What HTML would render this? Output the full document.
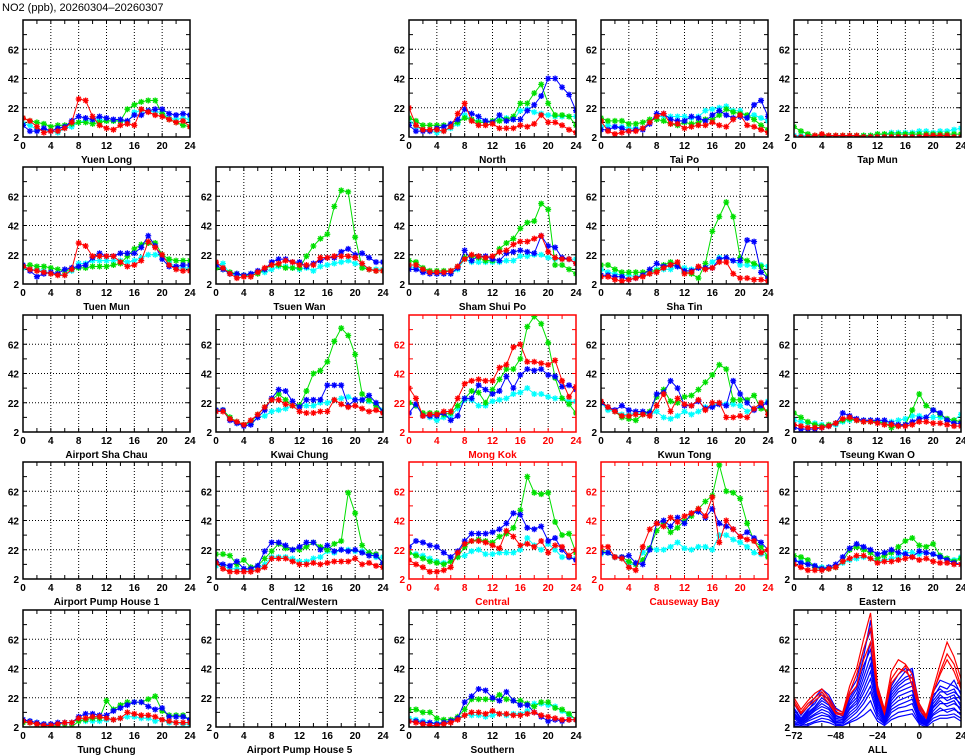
<!DOCTYPE html>
<html><head><meta charset="utf-8"><style>
body{margin:0;background:#fff;}
svg{display:block;font-family:"Liberation Sans",sans-serif;}
</style></head><body>
<svg id="chart" width="965" height="755" viewBox="0 0 965 755" xmlns="http://www.w3.org/2000/svg">
<text x="2" y="11" font-size="11" fill="#000">NO2 (ppb), 20260304–20260307</text>
</svg>
<script>
const hours=[0,1,2,3,4,5,6,7,8,9,10,11,12,13,14,15,16,17,18,19,20,21,22,23,24];
const yTicks=[2,22,42,62];
const xTicks=[0,4,8,12,16,20,24];
const allXTicks=[-72,-48,-24,0,24];
const allHours=[-72,-68,-64,-60,-56,-52,-48,-44,-40,-36,-32,-28,-24,-20,-16,-12,-8,-4,0,4,8,12,16,20,24];

const YL_green=[15,13,12,11,9,10,10,11,12,12,11,12,13,13,13,21,24,26,27,27,18,14,12,10,9];
const YL_red=[15,13,9,5,6,6,8,12,28,27,16,10,8,7,10,11,10,21,19,17,16,14,12,13,9];
const YL_blue=[10,6,6,8,6,8,9,13,16,15,14,16,15,14,14,13,17,17,20,21,21,18,17,18,17];
const YL_cyan=[11,10,7,7,6,5,8,9,12,13,13,14,13,13,13,12,19,20,20,19,19,15,14,15,14];

const NO_green=[15,13,10,10,10,10,10,12,15,14,12,12,13,13,14,16,25,25,32,38,25,17,17,16,10];
const NO_red=[22,10,7,7,7,6,9,18,25,13,10,10,11,8,8,8,10,9,11,17,12,12,10,7,5];
const NO_blue=[10,6,6,6,8,9,11,14,21,18,16,13,12,17,13,14,14,20,24,30,42,42,36,31,20];
const NO_cyan=[14,9,7,6,5,6,8,11,17,14,13,13,12,14,15,14,20,21,19,18,17,16,16,16,16];

const TP_green=[15,13,13,13,11,11,12,14,14,13,11,10,12,11,12,14,14,17,21,19,18,17,14,10,7];
const TP_red=[13,6,4,5,6,6,8,12,16,18,11,11,8,9,10,10,12,10,9,14,17,10,9,7,5];
const TP_blue=[7,7,9,8,6,7,7,11,18,18,14,13,13,16,15,13,17,20,17,15,16,15,24,27,16];
const TP_cyan=[9,10,9,9,8,8,8,12,16,16,16,16,16,15,16,20,21,22,23,20,20,16,17,15,13];

const TM_green=[9,6,4,3,3,3,3,3,3,3,3,3,4,4,4,4,4,4,4,4,4,4,4,4,4];
const TM_red=[2,2,2,3,4,3,3,3,3,3,2,2,2,2,2,2,2,2,2,3,3,3,3,2,2];
const TM_blue=[2,2,2,2,2,2,2,2,2,2,2,2,2,2,2,2,2,2,2,2,2,2,2,2,2];
const TM_cyan=[3,3,3,3,3,3,3,3,3,3,3,3,4,4,5,5,5,5,6,6,5,6,6,7,8];

const TMN_green=[14,15,14,14,13,12,11,12,13,13,14,14,14,15,16,21,26,29,30,30,22,19,18,18,18];
const TMN_red=[14,12,11,10,9,8,8,12,30,28,21,21,21,21,17,14,15,18,31,27,22,15,12,11,11];
const TMN_blue=[15,11,7,9,10,9,12,13,14,15,20,23,21,21,23,23,23,27,35,28,19,14,14,15,15];
const TMN_cyan=[13,12,12,11,9,9,8,11,16,16,18,18,18,18,18,17,18,20,22,22,21,17,13,13,13];

const TW_green=[13,12,10,9,8,8,9,12,15,15,13,13,13,21,28,33,36,55,66,65,34,13,12,11,11];
const TW_red=[17,13,9,6,7,7,10,13,15,16,18,17,15,15,15,20,20,21,21,21,20,16,12,11,11];
const TW_blue=[15,12,9,9,8,9,11,12,17,19,19,17,17,14,16,18,20,20,24,26,22,23,20,17,17];
const TW_cyan=[14,16,9,8,8,9,10,10,12,14,14,13,12,13,11,14,15,16,17,18,16,15,12,12,12];

const SSP_green=[18,17,13,11,11,11,11,14,20,21,20,18,18,26,30,33,40,44,45,57,53,15,15,12,9];
const SSP_red=[15,15,12,10,10,10,11,14,19,22,21,20,21,24,25,29,31,31,33,35,24,20,19,19,16];
const SSP_blue=[12,12,10,9,9,9,9,13,25,18,21,21,19,18,23,24,25,24,23,35,28,27,20,19,16];
const SSP_cyan=[14,13,11,10,9,9,9,12,19,17,17,17,17,17,18,18,21,21,22,22,20,19,19,19,19];

const ST_green=[15,15,12,10,10,10,10,11,11,15,17,15,10,9,6,16,38,48,58,48,20,18,16,14,7];
const ST_red=[7,7,5,4,5,6,7,9,10,13,15,17,9,10,14,12,13,17,17,9,6,6,5,5,4];
const ST_blue=[8,8,7,7,5,6,8,12,16,14,15,14,11,11,13,13,13,19,20,18,18,32,31,10,6];
const ST_cyan=[12,10,9,8,8,7,8,9,12,12,12,14,13,12,13,13,17,20,20,18,15,15,14,15,14];

const KC_green=[17,17,12,9,7,9,14,19,24,28,24,20,20,30,42,44,50,64,73,68,55,28,24,20,16];
const KC_red=[16,16,11,9,7,10,14,19,24,24,21,20,16,15,15,16,16,24,21,19,20,18,16,17,15];
const KC_blue=[17,17,10,8,6,7,12,17,25,31,30,23,19,24,24,24,34,34,34,20,24,24,27,22,16];
const KC_cyan=[17,17,12,8,7,8,12,13,16,17,18,20,20,20,20,22,22,24,25,26,24,24,23,21,17];

const MK_green=[22,20,15,15,15,14,15,20,25,30,29,22,31,38,45,45,52,74,81,76,63,39,25,21,15];
const MK_red=[32,25,13,14,14,16,16,25,35,37,38,37,37,46,48,60,62,50,50,49,48,51,37,26,33];
const MK_blue=[15,21,13,13,13,15,10,13,25,25,34,31,28,30,40,32,41,45,44,45,41,40,33,34,31];
const MK_cyan=[22,20,14,12,10,12,13,18,24,24,20,20,23,24,25,28,29,32,28,28,26,25,25,23,23];

const KT_green=[22,19,16,12,11,10,14,16,26,31,23,22,26,27,31,36,41,48,45,24,24,24,27,18,16];
const KT_red=[23,19,16,13,13,14,14,13,20,28,16,25,21,20,24,17,22,22,12,12,13,12,18,22,14];
const KT_blue=[22,19,17,20,17,16,16,15,28,29,37,32,20,20,23,18,19,21,20,37,28,22,17,20,22];
const KT_cyan=[22,17,16,14,14,15,15,14,16,12,11,13,16,14,16,19,20,22,21,21,20,16,18,21,23];

const TKO_green=[15,12,9,7,6,7,8,10,11,10,9,9,9,8,5,6,7,17,28,20,17,14,11,10,9];
const TKO_red=[7,6,5,5,5,6,8,11,12,10,9,9,8,7,7,6,6,7,9,9,8,8,7,6,6];
const TKO_blue=[5,4,4,4,5,6,8,15,13,11,10,10,10,10,8,7,7,9,11,12,17,15,10,8,8];
const TKO_cyan=[10,9,8,8,7,6,7,9,10,10,10,10,9,9,9,10,11,13,13,12,12,12,10,10,14];

const CW_green=[19,19,18,12,15,10,11,16,21,26,23,22,22,24,27,24,22,26,28,61,47,25,20,19,13];
const CW_red=[13,9,7,7,7,7,8,10,16,16,16,14,12,12,13,12,13,14,14,14,16,12,13,11,10];
const CW_blue=[14,12,11,14,9,9,11,21,27,27,25,22,24,27,27,22,25,21,22,21,22,20,18,18,13];
const CW_cyan=[11,11,9,9,9,8,9,12,17,17,17,16,14,14,16,17,21,20,22,22,21,21,20,17,17];

const CE_green=[20,18,16,14,13,12,14,17,24,28,29,28,27,31,33,37,49,72,61,60,61,41,32,33,20];
const CE_red=[15,12,10,7,7,8,10,20,26,28,28,27,25,23,35,31,25,26,24,28,20,25,24,18,22];
const CE_blue=[24,28,27,25,24,20,17,21,28,33,33,33,34,36,40,47,46,37,36,38,28,30,22,17,15];
const CE_cyan=[20,19,18,16,14,13,14,17,18,21,22,19,19,20,20,20,22,30,25,22,26,22,17,17,16];

const CB_green=[21,20,17,17,14,12,15,23,35,40,34,37,42,45,50,55,59,80,62,61,57,40,28,24,17];
const CB_red=[24,24,17,16,10,8,24,36,40,38,44,41,45,47,50,45,58,27,42,36,31,29,28,20,22];
const CB_blue=[20,20,17,17,18,13,12,22,40,42,38,44,40,47,48,44,50,40,38,36,31,34,30,27,22];
const CB_cyan=[19,20,17,16,12,12,20,23,22,22,24,27,23,22,24,24,22,32,32,29,27,24,20,19,18];

const EA_green=[18,17,15,10,9,9,10,14,22,24,22,20,16,18,20,24,28,30,25,24,26,18,16,14,16];
const EA_red=[12,10,8,8,8,9,10,14,16,18,18,16,13,14,14,15,16,17,15,16,14,13,13,12,12];
const EA_blue=[15,13,12,11,9,10,12,17,23,26,24,22,19,20,22,20,19,17,21,20,19,17,15,13,12];
const EA_cyan=[15,14,12,11,10,10,10,13,15,16,17,16,14,15,16,17,20,20,19,20,19,18,16,15,17];

const TC_green=[5,5,4,3,3,2,2,2,6,7,8,8,20,14,17,19,19,19,21,23,13,10,10,10,7];
const TC_red=[6,5,4,3,3,4,5,5,8,8,9,9,8,7,8,12,11,10,10,9,7,6,5,5,5];
const TC_blue=[7,6,5,4,4,5,5,5,9,11,11,10,10,13,15,17,19,19,16,14,15,9,9,9,7];
const TC_cyan=[7,6,5,4,3,3,5,5,7,6,6,6,7,7,8,9,9,8,8,6,7,5,5,4,4];

const SO_green=[14,14,12,12,8,7,7,9,14,21,21,21,21,24,21,20,20,18,16,19,19,15,14,11,7];
const SO_red=[6,5,4,3,3,4,5,7,10,12,12,11,13,11,11,10,10,11,12,10,9,8,7,7,7];
const SO_blue=[6,6,5,5,4,5,6,8,19,23,28,27,22,20,26,20,17,17,12,9,6,7,6,7,7];
const SO_cyan=[8,7,6,5,5,5,6,8,10,10,10,9,10,11,10,11,11,13,18,18,17,16,13,10,7];

const ALL_red1=[22,14,20,25,28,22,14,12,30,42,62,80,30,14,40,48,45,38,18,10,28,45,60,50,35];
const ALL_red2=[20,12,18,22,26,20,12,11,26,38,55,70,28,12,35,42,40,35,16,9,25,40,52,45,30];
const ALL_red3=[18,11,16,20,24,18,11,10,24,30,48,60,25,11,32,38,44,30,14,8,26,38,48,40,28];
const ALL_blue1=[15,8,14,18,26,20,12,10,22,30,50,75,26,12,28,34,40,42,15,6,22,30,28,34,24];
const ALL_blue2=[12,6,12,16,22,18,10,8,18,25,40,60,22,10,24,30,34,36,12,5,20,26,26,28,20];
const ALL_blue3=[10,5,10,14,18,15,8,7,15,20,32,45,18,8,20,26,28,30,10,4,16,22,22,24,16];
const ALL_blue4=[8,4,8,11,14,12,6,5,12,16,25,35,14,6,16,20,22,24,8,3,13,18,18,20,13];
const ALL_blue5=[5,3,6,8,10,9,4,4,8,12,18,26,10,4,12,15,16,18,6,3,10,13,14,15,10];
const ALL_blue6=[3,2,3,5,6,5,3,3,5,7,10,14,6,3,7,9,10,11,4,2,6,8,8,9,6];
const ALL_blue7=[18,10,16,22,28,24,15,12,26,34,55,68,30,14,30,38,42,40,18,8,26,34,32,30,26];
const ALL_blue8=[14,7,13,20,24,21,13,9,20,28,44,55,24,11,26,32,36,38,14,6,24,28,24,26,22];
const ALL_blue9=[11,6,11,15,20,17,9,8,17,22,36,50,20,9,22,28,31,33,11,5,18,24,20,22,18];
const ALL_blue10=[9,5,9,13,16,14,7,6,14,18,28,40,16,7,18,23,25,27,9,4,15,20,16,18,15];
const ALL_blue11=[6,4,7,10,12,10,5,5,10,14,21,30,12,5,14,17,19,21,7,3,11,15,12,14,11];
const ALL_blue12=[4,3,4,6,8,7,4,3,6,9,14,20,8,4,9,12,13,14,5,3,8,10,10,11,8];

const NS='http://www.w3.org/2000/svg';
const svg=document.getElementById('chart');
const colLeft=[23,216,409,601,794], rowTop=[20,167,315,462,610];
const PW=167, PH=117, YMIN=2, YMAX=82;
const C={green:'#00e000',red:'#ff0000',blue:'#0000ff',cyan:'#00ffff'};

function mk(tag,attrs,parent){const e=document.createElementNS(NS,tag);for(const k in attrs)e.setAttribute(k,attrs[k]);parent.appendChild(e);return e;}

const panels=[
 {r:0,c:0,name:'Yuen Long',s:[YL_cyan,YL_green,YL_blue,YL_red]},
 {r:0,c:2,name:'North',s:[NO_cyan,NO_green,NO_blue,NO_red]},
 {r:0,c:3,name:'Tai Po',s:[TP_cyan,TP_green,TP_blue,TP_red]},
 {r:0,c:4,name:'Tap Mun',s:[TM_cyan,TM_green,TM_blue,TM_red]},
 {r:1,c:0,name:'Tuen Mun',s:[TMN_cyan,TMN_green,TMN_blue,TMN_red]},
 {r:1,c:1,name:'Tsuen Wan',s:[TW_cyan,TW_green,TW_blue,TW_red]},
 {r:1,c:2,name:'Sham Shui Po',s:[SSP_cyan,SSP_green,SSP_blue,SSP_red]},
 {r:1,c:3,name:'Sha Tin',s:[ST_cyan,ST_green,ST_blue,ST_red]},
 {r:2,c:0,name:'Airport Sha Chau',s:null},
 {r:2,c:1,name:'Kwai Chung',s:[KC_cyan,KC_green,KC_blue,KC_red]},
 {r:2,c:2,name:'Mong Kok',road:true,s:[MK_cyan,MK_green,MK_blue,MK_red]},
 {r:2,c:3,name:'Kwun Tong',s:[KT_cyan,KT_green,KT_blue,KT_red]},
 {r:2,c:4,name:'Tseung Kwan O',s:[TKO_cyan,TKO_green,TKO_blue,TKO_red]},
 {r:3,c:0,name:'Airport Pump House 1',s:null},
 {r:3,c:1,name:'Central/Western',s:[CW_cyan,CW_green,CW_blue,CW_red]},
 {r:3,c:2,name:'Central',road:true,s:[CE_cyan,CE_green,CE_blue,CE_red]},
 {r:3,c:3,name:'Causeway Bay',road:true,s:[CB_cyan,CB_green,CB_blue,CB_red]},
 {r:3,c:4,name:'Eastern',s:[EA_cyan,EA_green,EA_blue,EA_red]},
 {r:4,c:0,name:'Tung Chung',s:[TC_cyan,TC_green,TC_blue,TC_red]},
 {r:4,c:1,name:'Airport Pump House 5',s:null},
 {r:4,c:2,name:'Southern',s:[SO_cyan,SO_green,SO_blue,SO_red]},
 {r:4,c:4,name:'ALL',all:true}
];
const seriesColors=['cyan','green','blue','red'];
let clipId=0;

panels.forEach(p=>{
 const x0=colLeft[p.c], y0=rowTop[p.r];
 const fc=p.road?'#ff0000':'#000';
 const slug=p.name.toLowerCase().replace(/[^a-z0-9]+/g,'-');
 const g=mk('g',{},svg);
 
 
 const xmin=p.all?-72:0, xmax=24;
 const sx=v=>x0+(v-xmin)/(xmax-xmin)*PW;
 const sy=v=>y0+PH-(v-YMIN)/(YMAX-YMIN)*PH;
 const gxt=p.all?allXTicks:xTicks;
 gxt.forEach(t=>{if(t>xmin&&t<xmax){const l=mk('line',{x1:sx(t),x2:sx(t),y1:y0,y2:y0+PH,stroke:'#000','stroke-width':1,'stroke-dasharray':'1,2'},g);}});
 yTicks.forEach(t=>{if(t>YMIN){const l=mk('line',{x1:x0,x2:x0+PW,y1:sy(t),y2:sy(t),stroke:'#000','stroke-width':1,'stroke-dasharray':'1,2'},g);}});
 let d='';
 for(let v=12;v<YMAX;v+=10){d+=`M${x0},${sy(v)}h4M${x0+PW},${sy(v)}h-4`;}
 const step=p.all?8:2;
 for(let v=xmin+step;v<xmax;v+=step){d+=`M${sx(v)},${y0}v4M${sx(v)},${y0+PH}v-4`;}
 mk('path',{d:d,stroke:fc,'stroke-width':1,fill:'none'},g);
 const cid='cp'+(clipId++);
 const cp=mk('clipPath',{id:cid},g);
 mk('rect',{x:x0,y:y0,width:PW,height:PH},cp);
 const dg=mk('g',{'clip-path':`url(#${cid})`},g);
 if(p.all){
  [ALL_blue12,ALL_blue6,ALL_blue11,ALL_blue5,ALL_blue10,ALL_blue4,ALL_blue9,ALL_blue3,ALL_blue8,ALL_blue2,ALL_blue7,ALL_blue1].forEach(arr=>{
   const pl=mk('polyline',{points:arr.map((v,i)=>sx(allHours[i])+','+sy(v)).join(' '),fill:'none',stroke:C.blue,'stroke-width':1.2},dg);
   
   
  });
  [ALL_red3,ALL_red2,ALL_red1].forEach(arr=>{
   const pl=mk('polyline',{points:arr.map((v,i)=>sx(allHours[i])+','+sy(v)).join(' '),fill:'none',stroke:C.red,'stroke-width':1.2},dg);
   
   
  });
 } else if(p.s){
  p.s.forEach((arr,si)=>{
   const col=C[seriesColors[si]];
   const sg=mk('g',{},dg);
   
   
   mk('polyline',{points:arr.map((v,i)=>sx(hours[i])+','+sy(v)).join(' '),fill:'none',stroke:col,'stroke-width':1},sg);
   let md='';
   arr.forEach((v,i)=>{const X=sx(hours[i]),Y=sy(v);md+=`M${X-3},${Y}h6M${X},${Y-3}v6M${X-2.2},${Y-2.2}l4.4,4.4M${X-2.2},${Y+2.2}l4.4,-4.4`;});
   mk('path',{d:md,stroke:col,'stroke-width':1.3,fill:'none'},sg);
  });
 }
 const fr=mk('rect',{x:x0,y:y0,width:PW,height:PH,fill:'none',stroke:fc,'stroke-width':1.5},g);
 
 
 yTicks.forEach(t=>{const tx=mk('text',{x:x0-4,y:sy(t)+4,'text-anchor':'end','font-size':10,'font-weight':'bold',fill:fc},g);tx.textContent=t;});
 gxt.forEach(t=>{const tx=mk('text',{x:sx(t),y:y0+PH+12,'text-anchor':'middle','font-size':10,'font-weight':'bold',fill:fc},g);tx.textContent=(t<0?'\u2212'+(-t):t);});
 const tt=mk('text',{x:x0+PW/2,y:y0+PH+26,'text-anchor':'middle','font-size':10,'font-weight':'bold',fill:fc},g);
 tt.textContent=p.name;
 
 
});
</script>
</body></html>
